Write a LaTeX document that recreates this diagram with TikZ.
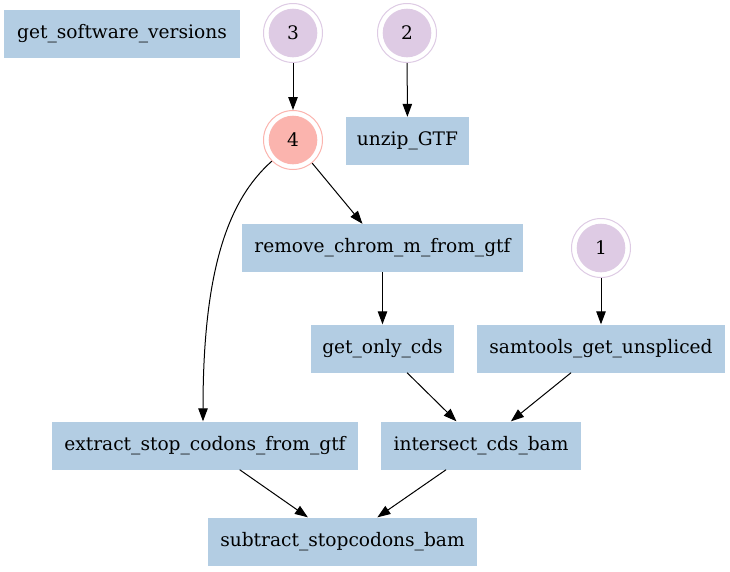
\documentclass[tikz,border=0pt]{standalone}
\usepackage{fontspec}
\setmainfont{DejaVu Serif}
\usetikzlibrary{arrows.meta,calc}
\definecolor{boxblue}{HTML}{B3CDE3}
\definecolor{lilac}{HTML}{DECBE4}
\definecolor{pinkred}{HTML}{FBB4AE}
\tikzset{
  task/.style={fill=boxblue, draw=none, minimum height=48pt, inner sep=0pt,
    font=\fontsize{18.6}{22}\selectfont},
  ring/.style={circle, draw=#1, line width=1pt, fill=white, minimum size=59pt, inner sep=0pt,
    font=\fontsize{18.6}{22}\selectfont,
    path picture={\fill[#1] (path picture bounding box.center) circle (24.3pt);}},
  edge/.style={-{Triangle[length=13pt,width=9.5pt]}, line width=1pt, black},
}
\begin{document}
\begin{tikzpicture}[x=1pt,y=-1pt]
\useasboundingbox (0,0) rectangle (730,571);
\node[task, minimum width=236pt] (gsv) at (122,34) {get\_software\_versions};
\node[ring=lilac] (n3) at (293,33) {3};
\node[ring=lilac] (n2) at (407,33) {2};
\node[ring=pinkred] (n4) at (293,140) {4};
\node[task, minimum width=123pt] (unzip) at (407.5,141) {unzip\_GTF};
\node[task, minimum width=281pt] (remove) at (382.5,248) {remove\_chrom\_m\_from\_gtf};
\node[ring=lilac] (n1) at (601,248) {1};
\node[task, minimum width=143pt] (cds) at (382.5,348.5) {get\_only\_cds};
\node[task, minimum width=248pt] (sam) at (601,348.5) {samtools\_get\_unspliced};
\node[task, minimum width=306pt] (extract) at (205,445.5) {extract\_stop\_codons\_from\_gtf};
\node[task, minimum width=200pt] (inter) at (481,445.5) {intersect\_cds\_bam};
\node[task, minimum width=269pt] (sub) at (342.5,541.5) {subtract\_stopcodons\_bam};

\draw[edge] (n3) -- (n4);
\draw[edge] (n2) -- (unzip);
\draw[edge] (n4) -- (remove);
\draw[edge] (n4.225) .. controls (228,200) and (203,270) .. ($(extract.north)+(-2,0)$);
\draw[edge] (remove) -- (cds);
\draw[edge] (n1) -- (sam);
\draw[edge] (cds) -- (inter);
\draw[edge] (sam) -- (inter);
\draw[edge] (extract) -- (sub);
\draw[edge] (inter) -- (sub);
\end{tikzpicture}
\end{document}
